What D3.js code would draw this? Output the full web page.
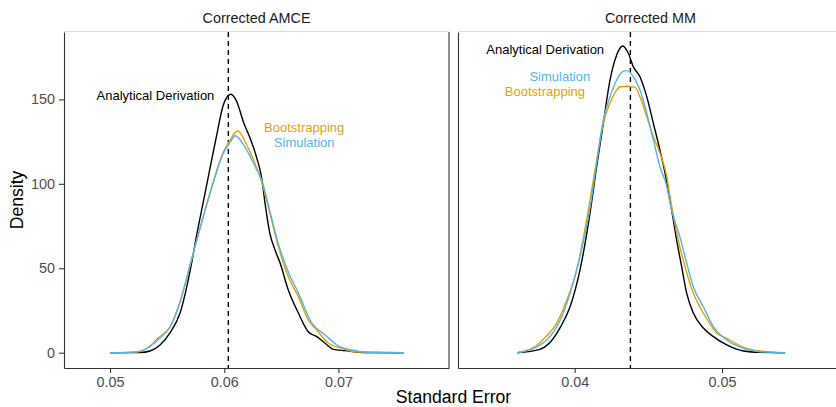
<!DOCTYPE html>
<html><head><meta charset="utf-8">
<script src="https://cdn.jsdelivr.net/npm/d3@7"></script>
<style>
body{margin:0;background:#fff}
svg{display:block;font-family:"Liberation Sans",Arial,Helvetica,sans-serif}
</style>
</head><body>
<svg id="chart" width="836" height="407"></svg>
<script>
// ---------- data ----------
const panelTitles = ["Corrected AMCE", "Corrected MM"];
const seriesNames = ["Analytical Derivation", "Bootstrapping", "Simulation"];
const seriesColors = ["#000000", "#E69F00", "#56B4E9"];

const yTicks = [0, 50, 100, 150];
const amceXTicks = [0.05, 0.06, 0.07];
const mmXTicks = [0.04, 0.05];

// reference (dashed) lines
const amceRef = 0.06036;
const mmRef = 0.04378;

// Corrected AMCE densities
const amceAnalyticalX = [0.0500,0.05263,0.05350,0.05438,0.05525,0.05613,0.05716,0.05759,0.05817,0.05876,0.05934,0.05992,0.06057,0.06110,0.06167,0.06226,0.06285,0.06328,0.06357,0.06401,0.06445,0.06489,0.06561,0.06649,0.06736,0.06810,0.06883,0.06955,0.07058,0.07204,0.07574];
const amceAnalyticalY = [0,0.1,1.0,4.6,11.7,23.5,53.7,69.7,89.4,109.4,128.9,146.7,153.0,148.6,136.8,127.1,115.3,103.4,88.6,70.2,60.8,53.1,37.1,23.5,12.4,9.5,5.6,2.0,1.2,0.1,0];

const amceBootX = [0.0500,0.05175,0.05263,0.05350,0.05420,0.05525,0.05613,0.05701,0.05788,0.05876,0.05992,0.06051,0.06118,0.06197,0.06285,0.06328,0.06386,0.06474,0.06561,0.06649,0.06736,0.06810,0.06912,0.07029,0.07145,0.07364,0.07574];
const amceBootY = [0,0.2,0.7,4.0,8.7,15.2,30.0,51.9,73.8,94.6,118.8,125.9,131.4,123.0,109.4,101.1,86.4,62.8,45.0,33.2,19.4,13.4,5.6,2.6,0.6,0.1,0];

const amceSimX = [0.0500,0.05175,0.05263,0.05350,0.05438,0.05525,0.05613,0.05701,0.05788,0.05876,0.05992,0.06051,0.06095,0.06197,0.06285,0.06328,0.06401,0.06474,0.06561,0.06649,0.06766,0.06883,0.06999,0.07116,0.07277,0.07574];
const amceSimY = [0,0.3,0.8,3.7,8.7,15.2,30.0,51.9,73.8,94.6,118.0,124.5,128.5,120.0,108.2,102.3,83.3,64.4,47.8,35.4,17.6,10.5,4.1,1.6,0.2,0];

// Corrected MM densities
const mmAnalyticalX = [0.03610,0.03764,0.03832,0.03900,0.03968,0.04036,0.04104,0.04149,0.04194,0.04240,0.04285,0.04326,0.04364,0.04398,0.04443,0.04489,0.04534,0.04579,0.04613,0.04647,0.04692,0.04726,0.04760,0.04805,0.04873,0.04941,0.05032,0.05145,0.05258,0.05428];
const mmAnalyticalY = [0,2.0,6.0,14.7,27.0,49.0,82.7,110.1,135.8,161.5,176.3,181.6,177.3,169.3,163.4,151.6,135.8,119.8,106.4,90.4,66.7,50.9,35.3,23.5,14.6,9.5,4.6,1.0,0.2,0];

const mmBootX = [0.03610,0.03742,0.03810,0.03878,0.03946,0.04014,0.04104,0.04149,0.04194,0.04240,0.04285,0.04308,0.04358,0.04409,0.04443,0.04489,0.04534,0.04579,0.04625,0.04647,0.04703,0.04749,0.04805,0.04873,0.04964,0.05032,0.05145,0.05258,0.05428];
const mmBootY = [0,4.3,10.0,17.5,31.0,49.0,90.4,114.1,135.8,147.8,155.5,157.5,157.8,157.1,151.6,139.7,127.9,118.1,104.2,92.4,66.7,50.9,35.3,23.5,11.7,8.5,3.2,1.0,0];

const mmSimX = [0.03610,0.03742,0.03810,0.03900,0.03968,0.04036,0.04104,0.04149,0.04194,0.04240,0.04285,0.04321,0.04357,0.04398,0.04443,0.04489,0.04534,0.04579,0.04625,0.04647,0.04720,0.04760,0.04805,0.04873,0.04941,0.05032,0.05145,0.05258,0.05428];
const mmSimY = [0,3.5,7.5,19.0,35.0,57.0,85.7,112.3,137.8,151.6,161.5,166.2,167.0,163.4,155.5,141.9,125.9,110.1,98.3,88.6,66.7,53.1,39.1,27.2,15.4,7.5,2.6,0.6,0];

// text annotations (data coordinates)
const amceLabelX = [0.05398, 0.06700, 0.06700];
const amceLabelY = [152.6, 133.6, 124.7];
const mmLabelX = [0.03800, 0.03798, 0.03899];
const mmLabelY = [179.6, 154.9, 163.6];

// ---------- layout ----------
const svg = d3.select("#chart");
const panelTop = 32, panelBottom = 368, panelW = 385;
const panelLeft = [64, 458];
const xDomains = [[0.04597, 0.07968], [0.03208, 0.05821]];
const yDomain = [-9.06, 189.9];

const y = d3.scaleLinear().domain(yDomain).range([panelBottom, panelTop]);

const panelData = [
  {
    title: panelTitles[0], xTicks: amceXTicks, ref: amceRef,
    series: [[amceAnalyticalX, amceAnalyticalY], [amceBootX, amceBootY], [amceSimX, amceSimY]],
    labels: [0, 1, 2].map(i => ({name: seriesNames[i], x: amceLabelX[i], y: amceLabelY[i], c: seriesColors[i]}))
  },
  {
    title: panelTitles[1], xTicks: mmXTicks, ref: mmRef,
    series: [[mmAnalyticalX, mmAnalyticalY], [mmBootX, mmBootY], [mmSimX, mmSimY]],
    labels: [0, 1, 2].map(i => ({name: seriesNames[i], x: mmLabelX[i], y: mmLabelY[i], c: seriesColors[i]}))
  }
];

panelData.forEach((p, pi) => {
  const L = panelLeft[pi], R = L + panelW;
  const x = d3.scaleLinear().domain(xDomains[pi]).range([L, R]);
  const g = svg.append("g");

  // strip line and title
  g.append("line").attr("x1", L).attr("x2", R).attr("y1", panelTop - 0.5).attr("y2", panelTop - 0.5)
    .attr("stroke", "#DEDEDE").attr("stroke-width", 1);
  g.append("text").attr("x", (L + R) / 2).attr("y", 23.3).attr("text-anchor", "middle")
    .attr("font-size", "14.4px").attr("fill", "#1A1A1A").text(p.title);

  // reference line
  g.append("line").attr("x1", x(p.ref)).attr("x2", x(p.ref)).attr("y1", panelTop).attr("y2", panelBottom)
    .attr("stroke", "#000").attr("stroke-width", 1.4).attr("stroke-dasharray", "5,4");

  // density curves
  const line = d3.line().x(d => x(d[0])).y(d => y(d[1])).curve(d3.curveMonotoneX);
  p.series.forEach((s, si) => {
    const pts = s[0].map((v, i) => [v, s[1][i]]);
    g.append("path").datum(pts).attr("d", line).attr("fill", "none")
      .attr("stroke", seriesColors[si]).attr("stroke-width", 1.4).attr("stroke-linejoin", "round");
  });

  // labels
  p.labels.forEach(l => {
    g.append("text").attr("x", x(l.x)).attr("y", y(l.y)).attr("dy", "0.35em")
      .attr("text-anchor", "middle").attr("font-size", "13px").attr("fill", l.c).text(l.name);
  });

  // x axis
  const xa = g.append("g").attr("transform", `translate(0,${panelBottom})`)
    .call(d3.axisBottom(x).tickValues(p.xTicks).tickFormat(d3.format(".2f")).tickSize(5).tickPadding(3.5).tickSizeOuter(0));
  xa.select(".domain").attr("stroke", "#333").attr("stroke-width", 1.1);
  xa.selectAll(".tick line").attr("stroke", "#333").attr("stroke-width", 1.1);
  xa.selectAll(".tick text").attr("font-size", "14.4px").attr("fill", "#4D4D4D");
  xa.attr("font-family", null);

  // y axis
  const ya = g.append("g").attr("transform", `translate(${L},0)`)
    .call(d3.axisLeft(y).tickValues(yTicks).tickSize(5).tickPadding(4).tickSizeOuter(0)
      .tickFormat(pi === 0 ? d3.format("d") : () => ""));
  ya.select(".domain").attr("stroke", "#333").attr("stroke-width", 1.1);
  ya.selectAll(".tick line").attr("stroke", "#333").attr("stroke-width", 1.1);
  ya.selectAll(".tick text").attr("font-size", "14.4px").attr("fill", "#4D4D4D");
  ya.attr("font-family", null);
  if (pi === 1) ya.selectAll(".tick").remove();

  // right border
  g.append("line").attr("x1", R).attr("x2", R).attr("y1", panelTop).attr("y2", panelBottom)
    .attr("stroke", "#333").attr("stroke-width", 1.1);
});

// axis titles
svg.append("text").attr("x", 453.5).attr("y", 402.5).attr("text-anchor", "middle")
  .attr("font-size", "17.6px").attr("fill", "#000").text("Standard Error");
svg.append("text").attr("transform", "translate(23,200) rotate(-90)").attr("text-anchor", "middle")
  .attr("font-size", "17.6px").attr("fill", "#000").text("Density");
</script>
</body></html>
